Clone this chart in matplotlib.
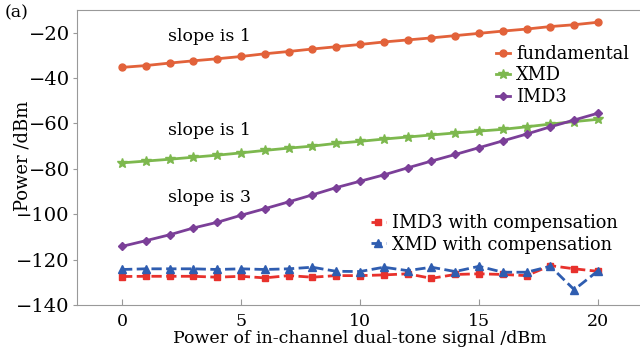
import matplotlib
matplotlib.use('Agg')
import matplotlib.pyplot as plt

plt.rcParams['font.family'] = 'DejaVu Serif'
plt.rcParams['mathtext.fontset'] = 'dejavuserif'

# Input power (dBm)
power = list(range(0, 21))

fundamental = [-35.3, -34.5, -33.4, -32.4, -31.5, -30.5, -29.3, -28.3, -27.2, -26.2, -25.2,
               -24.1, -23.2, -22.3, -21.3, -20.3, -19.3, -18.4, -17.3, -16.5, -15.4]
xmd = [-77.4, -76.6, -75.8, -74.9, -74.0, -73.0, -71.9, -70.9, -70.0, -68.8, -67.9,
       -66.9, -66.0, -65.1, -64.2, -63.4, -62.6, -61.5, -60.3, -59.2, -58.2]
imd3 = [-114.2, -111.7, -109.1, -106.1, -103.6, -100.5, -97.6, -94.6, -91.5, -88.3, -85.5,
        -82.7, -79.6, -76.6, -73.7, -70.7, -67.7, -64.7, -61.5, -58.5, -55.5]
imd3_comp = [-127.5, -127.4, -127.4, -127.4, -127.8, -127.4, -128.1, -127.1, -127.8, -127.1, -127.1,
             -126.8, -126.3, -128.3, -126.6, -126.3, -126.6, -127.1, -122.7, -124.1, -125.2]
xmd_comp = [-124.4, -124.1, -124.1, -124.1, -124.4, -124.1, -124.4, -124.1, -123.4, -125.2, -125.3,
            -123.4, -124.9, -123.4, -125.3, -123.0, -125.6, -125.6, -123.0, -133.3, -125.0]

fig = plt.figure(figsize=(6.4, 3.57), dpi=100)
ax = fig.add_axes([0.120, 0.146, 0.885, 0.826])

l1, = ax.plot(power, fundamental, '-o', color='#e2623a', lw=2, ms=5, label='fundamental')
l2, = ax.plot(power, xmd, '-*', color='#7db84e', lw=2, ms=7, label='XMD')
l3, = ax.plot(power, imd3, '-D', color='#7b3f98', lw=2, ms=4.5, label='IMD3')
l4, = ax.plot(power, imd3_comp, '--s', color='#e8312c', lw=2, ms=4, label='IMD3 with compensation')
l5, = ax.plot(power, xmd_comp, '--^', color='#2f5db0', lw=2, ms=5.5, label='XMD with compensation')

leg1 = ax.legend(handles=[l1, l2, l3], loc='upper left', bbox_to_anchor=(0.74, 0.882),
                 frameon=False, fontsize=12.8, handlelength=0.8, handletextpad=0.35,
                 labelspacing=0.2, borderpad=0, borderaxespad=0)
ax.add_artist(leg1)
ax.legend(handles=[l4, l5], loc='upper left', bbox_to_anchor=(0.52, 0.308),
          frameon=False, fontsize=12.8, handlelength=0.8, handletextpad=0.35,
          labelspacing=0.2, borderpad=0, borderaxespad=0)

ax.text(1.95, -21.5, 'slope is 1', fontsize=12.5, va='center')
ax.text(1.95, -63.2, 'slope is 1', fontsize=12.5, va='center')
ax.text(1.95, -92.6, 'slope is 3', fontsize=12.5, va='center')
fig.text(0.008, 0.965, '(a)', fontsize=12.5, va='center')

ax.set_xlim(-1.9, 21.9)
ax.set_ylim(-140, -10)
ax.set_xticks([0, 5, 10, 15, 20])
ax.set_yticks([-20, -40, -60, -80, -100, -120, -140])
ax.set_xlabel('Power of in-channel dual-tone signal /dBm', fontsize=12.5, labelpad=0)
ax.set_ylabel('Power /dBm', fontsize=13)
ax.yaxis.set_label_coords(-0.08, 0.505)

ax.spines['right'].set_visible(False)
for s in ['top', 'left', 'bottom']:
    ax.spines[s].set_color('#999999')
ax.tick_params(axis='x', direction='in', length=4, color='#999999', labelsize=12.5, pad=6)
ax.tick_params(axis='y', direction='out', length=3, color='#999999', labelsize=14, pad=2)

fig.savefig('out.png', dpi=100)
